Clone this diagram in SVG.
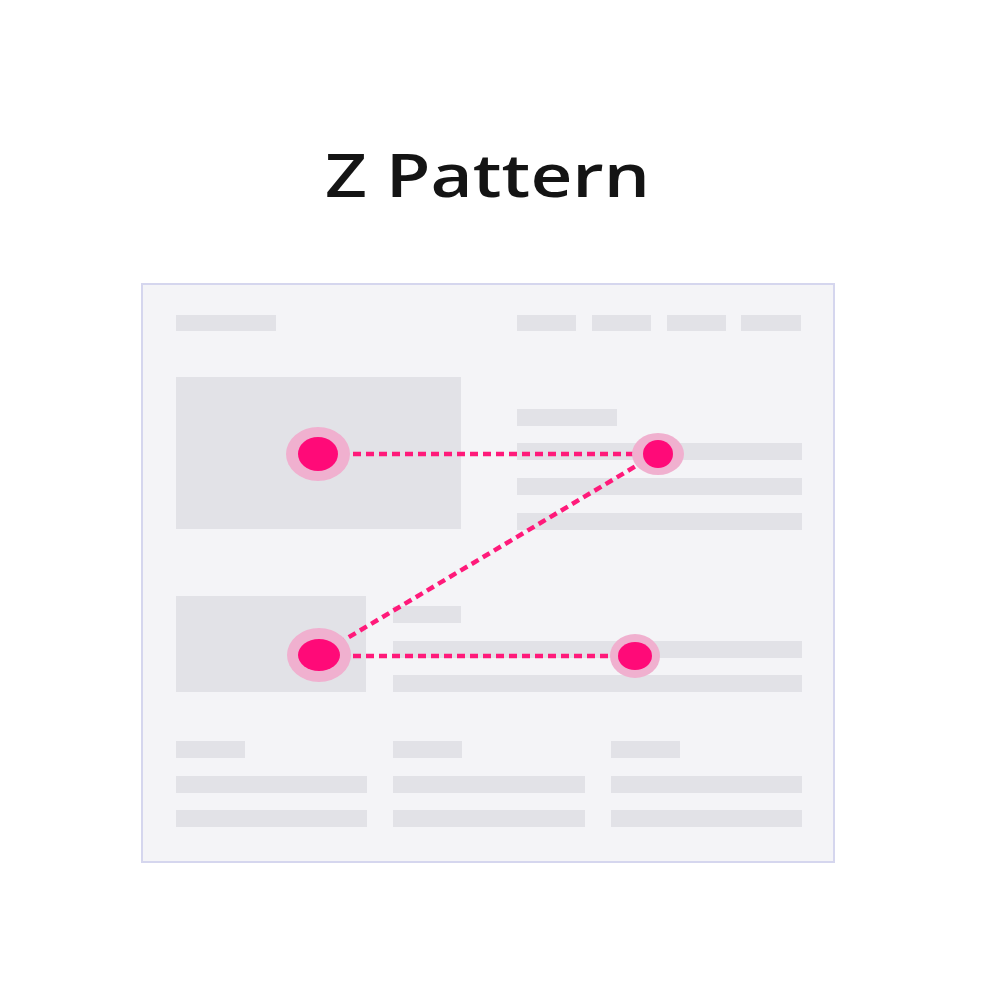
<svg xmlns="http://www.w3.org/2000/svg" width="1000" height="1000" viewBox="0 0 1000 1000">
  <style>
    .title { font-family: "Open Sans", "Liberation Sans", sans-serif; font-size: 59px; font-weight: 600; fill: #141414; }
    .frame { fill: #f4f4f7; stroke: #d5d6ee; stroke-width: 2; }
    .blk { fill: #e2e2e7; }
    .halo { fill: #f0b0cf; }
    .dot { fill: #ff0a78; }
    .path { fill: none; stroke: #ff1a7a; stroke-width: 4.5; stroke-dasharray: 8 5; }
  </style>
  <rect width="1000" height="1000" fill="#ffffff"/>
  <text class="title" x="325" y="197" textLength="325" lengthAdjust="spacingAndGlyphs">Z Pattern</text>

  <g id="page">
    <rect class="frame" x="142" y="284" width="692" height="578"/>
    <!-- header -->
    <rect class="blk" x="176" y="315" width="100" height="16"/>
    <rect class="blk" x="517" y="315" width="59" height="16"/>
    <rect class="blk" x="592" y="315" width="59" height="16"/>
    <rect class="blk" x="667" y="315" width="59" height="16"/>
    <rect class="blk" x="741" y="315" width="60" height="16"/>
    <!-- hero -->
    <rect class="blk" x="176" y="377" width="285" height="152"/>
    <rect class="blk" x="517" y="409" width="100" height="17"/>
    <rect class="blk" x="517" y="443" width="285" height="17"/>
    <rect class="blk" x="517" y="478" width="285" height="17"/>
    <rect class="blk" x="517" y="513" width="285" height="17"/>
    <!-- second row -->
    <rect class="blk" x="176" y="596" width="190" height="96"/>
    <rect class="blk" x="393" y="606" width="68" height="17"/>
    <rect class="blk" x="393" y="641" width="409" height="17"/>
    <rect class="blk" x="393" y="675" width="409" height="17"/>
    <!-- footer columns -->
    <rect class="blk" x="176" y="741" width="69" height="17"/>
    <rect class="blk" x="176" y="776" width="191" height="17"/>
    <rect class="blk" x="176" y="810" width="191" height="17"/>
    <rect class="blk" x="393" y="741" width="69" height="17"/>
    <rect class="blk" x="393" y="776" width="192" height="17"/>
    <rect class="blk" x="393" y="810" width="192" height="17"/>
    <rect class="blk" x="611" y="741" width="69" height="17"/>
    <rect class="blk" x="611" y="776" width="191" height="17"/>
    <rect class="blk" x="611" y="810" width="191" height="17"/>
  </g>

  <g id="connectors">
    <line class="path" x1="340" y1="454" x2="642" y2="454"/>
    <line class="path" x1="646" y1="460" x2="334" y2="646"/>
    <line class="path" x1="340" y1="656" x2="620" y2="656"/>
  </g>

  <g id="point-1">
    <ellipse class="halo" cx="318" cy="454" rx="32" ry="27"/>
    <ellipse class="dot" cx="318" cy="454" rx="20" ry="17"/>
  </g>
  <g id="point-2">
    <ellipse class="halo" cx="658" cy="454" rx="26" ry="21"/>
    <ellipse class="dot" cx="658" cy="454" rx="15" ry="14"/>
  </g>
  <g id="point-3">
    <ellipse class="halo" cx="319" cy="655" rx="32" ry="27"/>
    <ellipse class="dot" cx="319" cy="655" rx="21" ry="16"/>
  </g>
  <g id="point-4">
    <ellipse class="halo" cx="635" cy="656" rx="25" ry="22"/>
    <ellipse class="dot" cx="635" cy="656" rx="17" ry="14"/>
  </g>
</svg>
